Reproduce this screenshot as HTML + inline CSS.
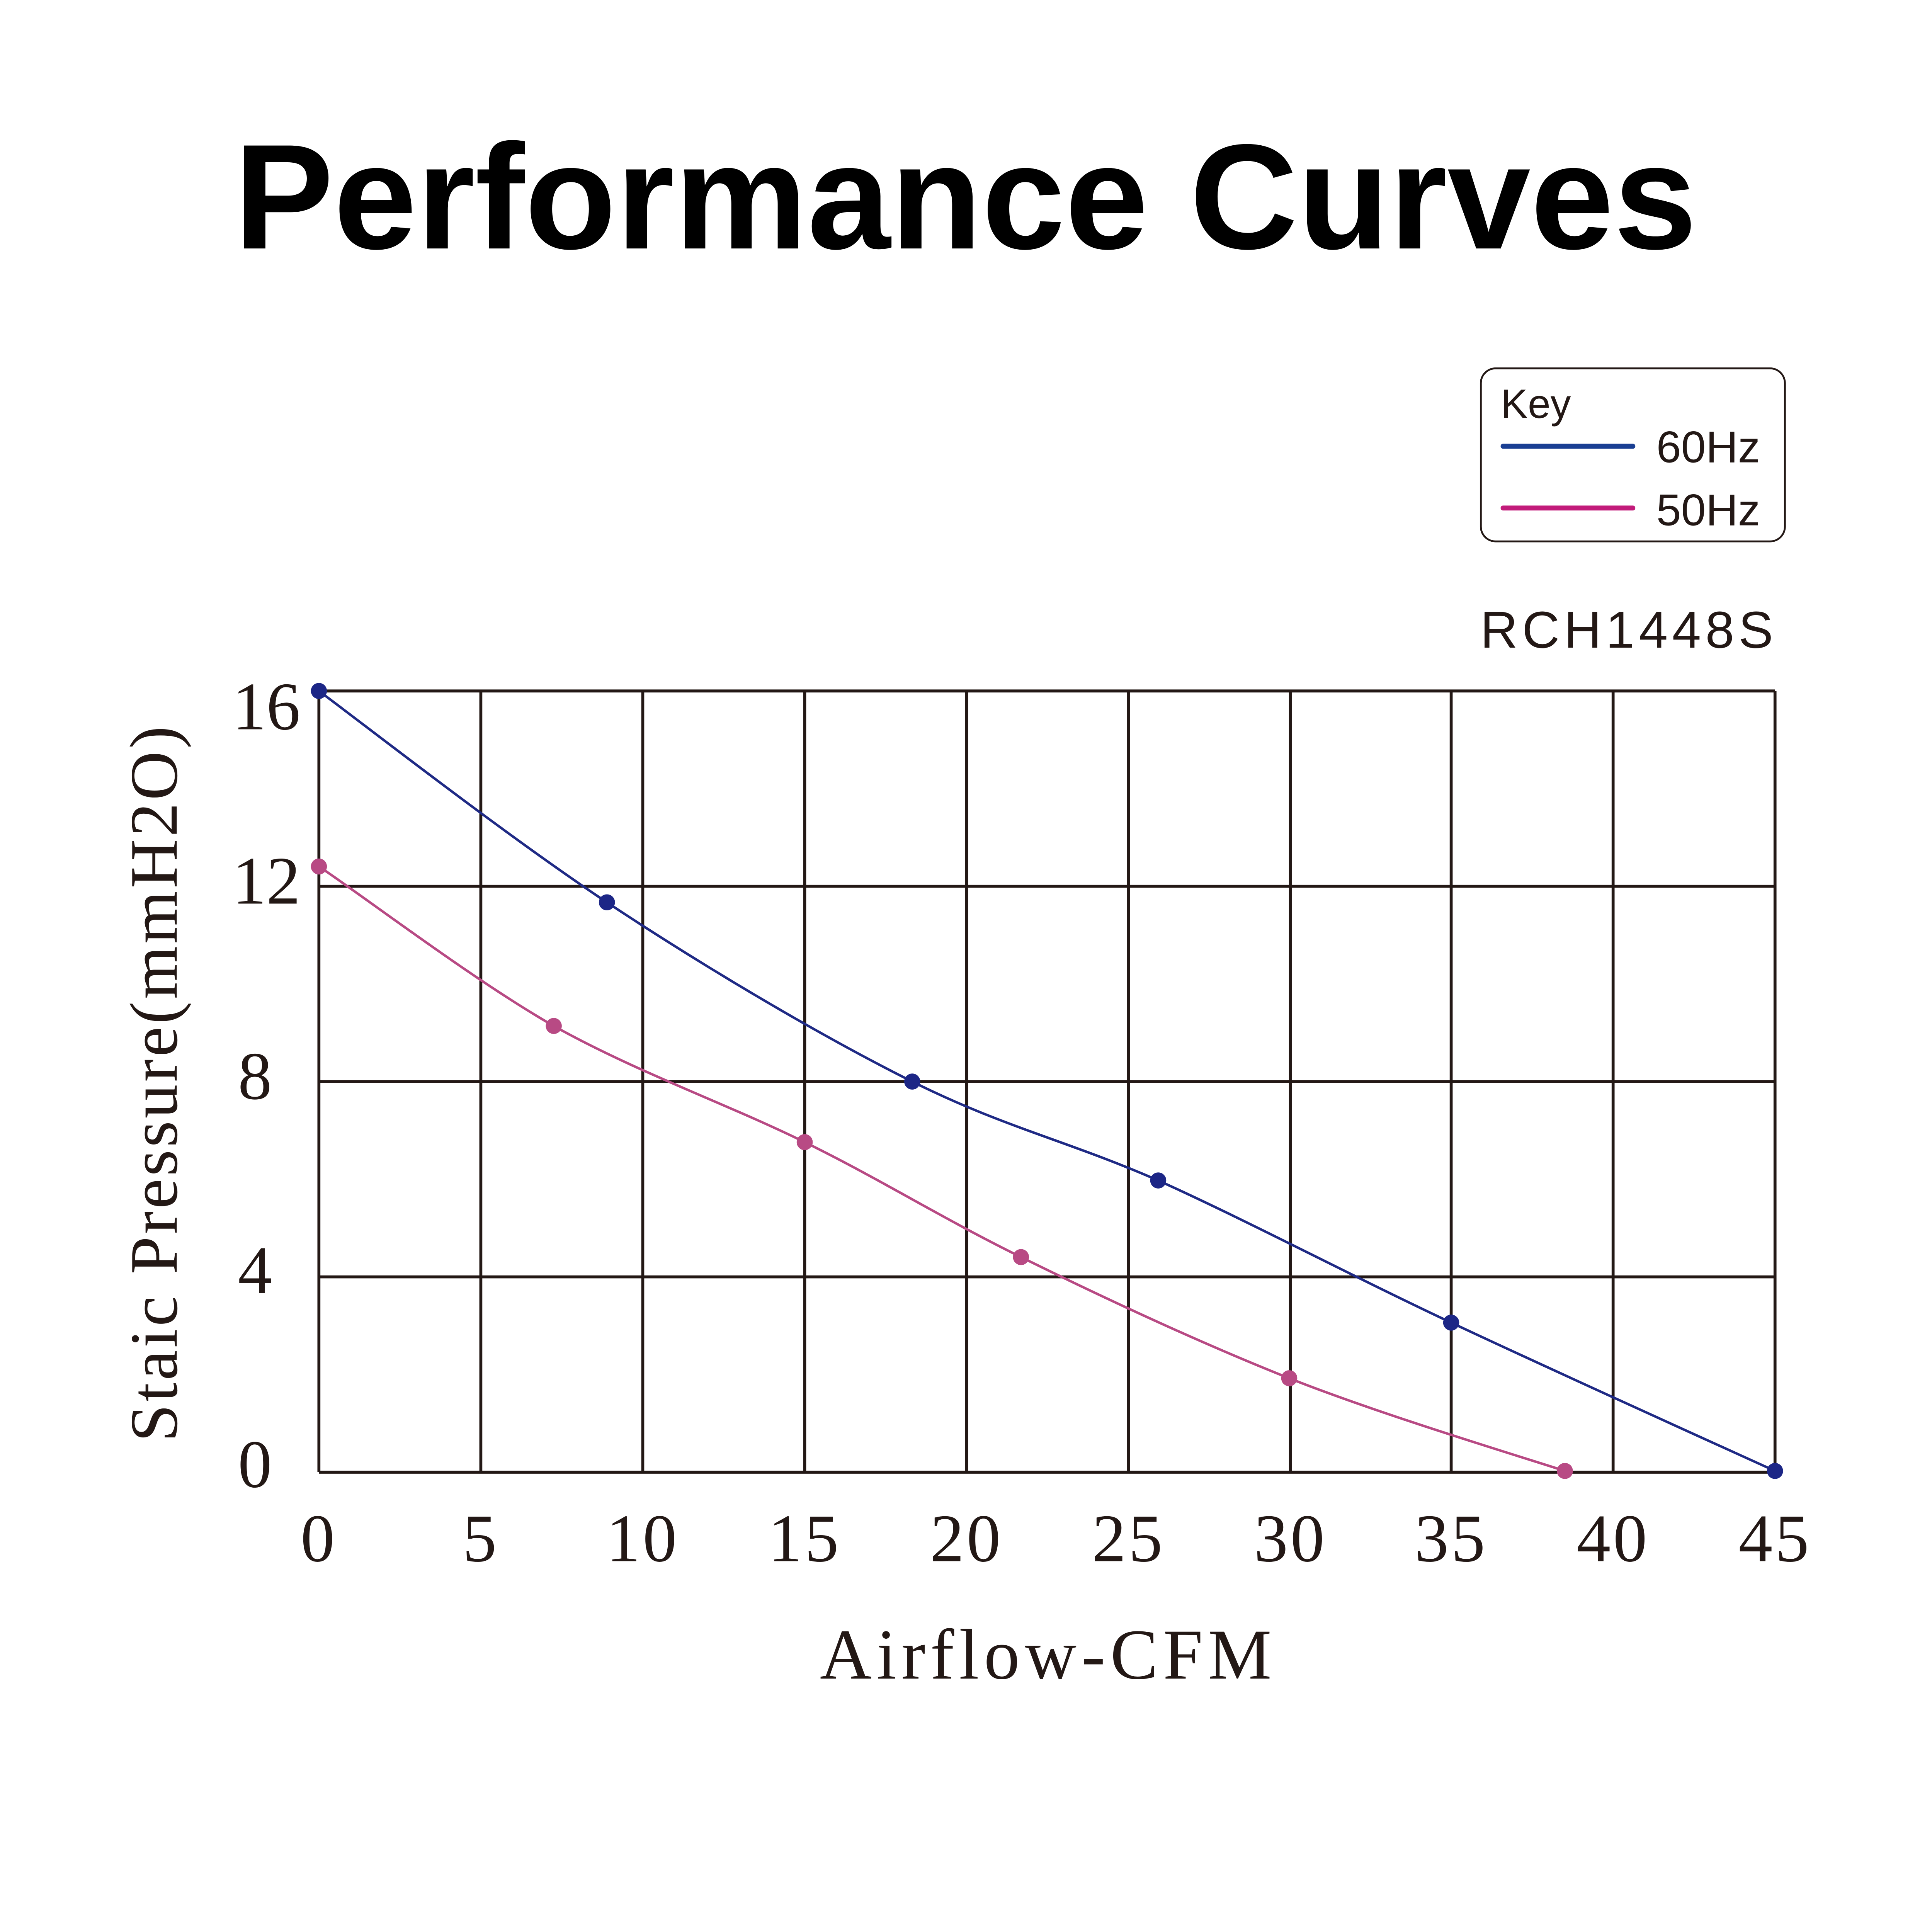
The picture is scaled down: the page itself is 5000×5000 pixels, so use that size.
<!DOCTYPE html>
<html><head><meta charset="utf-8"><style>html,body{margin:0;padding:0;background:#fff}svg{display:block}</style></head>
<body>
<svg xmlns="http://www.w3.org/2000/svg" width="5000" height="5000" viewBox="0 0 1563 1563">
<rect width="1563" height="1563" fill="#fff"/>
<text x="781" y="201" text-anchor="middle" font-family="Liberation Sans, sans-serif" font-weight="bold" font-size="121" fill="#000">Performance Curves</text>
<rect x="1198" y="298" width="246" height="140" rx="12" fill="#fff" stroke="#231815" stroke-width="1.5"/>
<text x="1214" y="338" font-family="Liberation Sans, sans-serif" font-size="33" fill="#231815">Key</text>
<line x1="1216" y1="361" x2="1321" y2="361" stroke="#1a3f93" stroke-width="4" stroke-linecap="round"/>
<line x1="1216" y1="411" x2="1321" y2="411" stroke="#c21b7a" stroke-width="4" stroke-linecap="round"/>
<text x="1340" y="374" font-family="Liberation Sans, sans-serif" font-size="36" fill="#231815">60Hz</text>
<text x="1340" y="425" font-family="Liberation Sans, sans-serif" font-size="36" fill="#231815">50Hz</text>
<text x="1438" y="524" text-anchor="end" font-family="Liberation Sans, sans-serif" font-size="42" letter-spacing="3.5" fill="#231815">RCH1448S</text>
<g stroke="#231815" stroke-width="2.4" fill="none">
<line x1="258" y1="559" x2="1436" y2="559"/><line x1="258" y1="717" x2="1436" y2="717"/><line x1="258" y1="875" x2="1436" y2="875"/><line x1="258" y1="1033" x2="1436" y2="1033"/><line x1="258" y1="1191" x2="1436" y2="1191"/>
<line x1="258" y1="559" x2="258" y2="1191"/><line x1="389" y1="559" x2="389" y2="1191"/><line x1="520" y1="559" x2="520" y2="1191"/><line x1="651" y1="559" x2="651" y2="1191"/><line x1="782" y1="559" x2="782" y2="1191"/><line x1="913" y1="559" x2="913" y2="1191"/><line x1="1044" y1="559" x2="1044" y2="1191"/><line x1="1174" y1="559" x2="1174" y2="1191"/><line x1="1305" y1="559" x2="1305" y2="1191"/><line x1="1436" y1="559" x2="1436" y2="1191"/>
</g>
<g font-family="Liberation Serif, serif" font-size="55" fill="#231815">
<g text-anchor="end"><text x="243" y="590">16</text><text x="243" y="731">12</text><text x="220" y="889">8</text><text x="220" y="1046">4</text><text x="220" y="1203">0</text></g>
<g text-anchor="middle" letter-spacing="2"><text x="258" y="1263">0</text><text x="389" y="1263">5</text><text x="520" y="1263">10</text><text x="651" y="1263">15</text><text x="782" y="1263">20</text><text x="913" y="1263">25</text><text x="1044" y="1263">30</text><text x="1174" y="1263">35</text><text x="1305" y="1263">40</text><text x="1436" y="1263">45</text></g>
<text x="848" y="1358" text-anchor="middle" font-size="58" letter-spacing="4">Airflow-CFM</text>
<text transform="translate(143,876) rotate(-90)" text-anchor="middle" font-size="55" letter-spacing="2">Staic Pressure(mmH2O)</text>
</g>
<path d="M258,559 C297,588 411,677 491,730 C571,783 664,838 738,875 C812,912 864,923 937,955 C1010,988 1091,1031 1174,1070 C1257,1109 1392,1170 1436,1190" fill="none" stroke="#1f2a85" stroke-width="2"/>
<path d="M258,701 C290,722 383,793 448,830 C514,867 588,893 651,924 C714,955 761,985 826,1017 C891,1049 970,1086 1043,1115 C1116,1144 1229,1178 1266,1190" fill="none" stroke="#b84a84" stroke-width="2"/>
<g fill="#1c2686"><circle cx="258" cy="559" r="6.5"/><circle cx="491" cy="730" r="6.5"/><circle cx="738" cy="875" r="6.5"/><circle cx="937" cy="955" r="6.5"/><circle cx="1174" cy="1070" r="6.5"/><circle cx="1436" cy="1190" r="6.5"/></g>
<g fill="#b84a84"><circle cx="258" cy="701" r="6.5"/><circle cx="448" cy="830" r="6.5"/><circle cx="651" cy="924" r="6.5"/><circle cx="826" cy="1017" r="6.5"/><circle cx="1043" cy="1115" r="6.5"/><circle cx="1266" cy="1190" r="6.5"/></g>
</svg>
</body></html>
